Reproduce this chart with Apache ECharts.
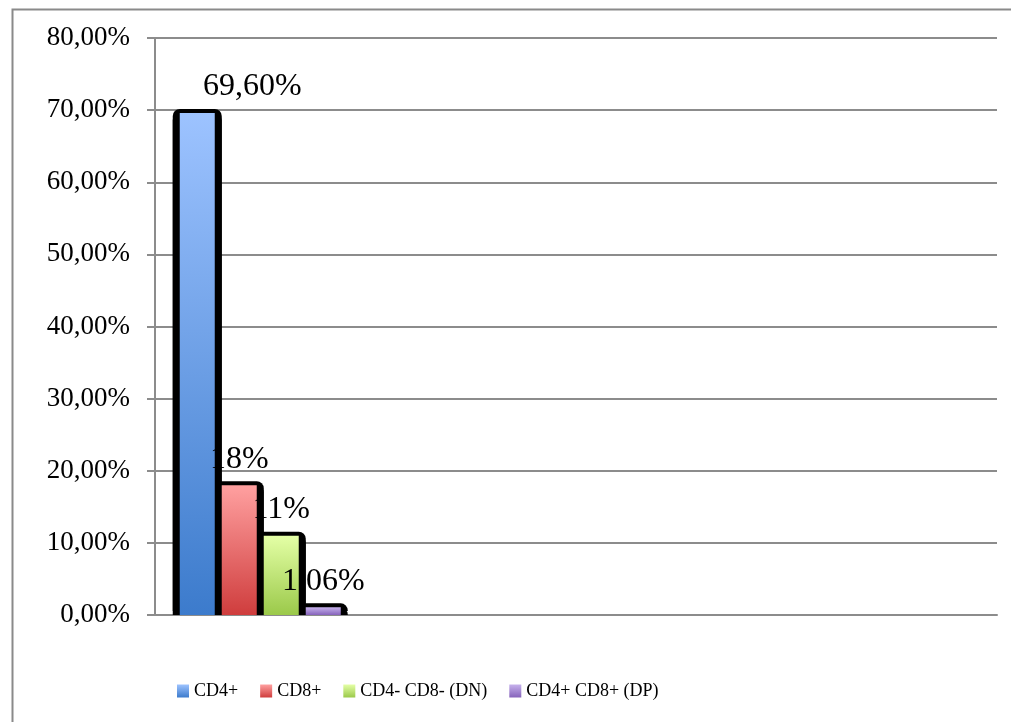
<!DOCTYPE html>
<html lang="en">
<head>
	<meta charset="UTF-8">
	<title>CD4 / CD8</title>
	<script src="https://cdn.jsdelivr.net/npm/echarts@6/dist/echarts.min.js"></script>
	<style>
		html, body { margin: 0; padding: 0; background: #fff; }
		#main { width: 1011px; height: 722px; }
	</style>
</head>
<body>
	<div id="main"></div>
	<script type="text/javascript">
	// one group of bars, the other three slots stay empty
	var categories = ['A', 'B', 'C', 'D'];
	var seriesNames = ['CD4+', 'CD8+', 'CD4- CD8- (DN)', 'CD4+ CD8+ (DP)'];
	var values = [69.6, 18, 11, 1.06];
	var yTicks = [0, 10, 20, 30, 40, 50, 60, 70, 80];

	var gradients = [
		['#9dc3ff', '#3c7bcc'],
		['#ffa0a0', '#cf3d3d'],
		['#e4ffa6', '#9bc94a'],
		['#c6b1ec', '#8663bb']
	];

	function pct(v) {
		if (Number.isInteger(v)) return v + '%';
		return v.toFixed(2).replace('.', ',') + '%';
	}

	var font = '"Liberation Serif", "DejaVu Serif", serif';

	function seriesData(i) {
		var d = [];
		for (var j = 0; j < categories.length; j++) d.push(j === 0 ? values[i] : '-');
		return d;
	}

	var series = [];
	// black "3d" backs, on their own hidden axis so they can be wider
	for (var i = 0; i < seriesNames.length; i++) {
		series.push({
			name: 'back' + i,
			type: 'bar',
			xAxisIndex: 1,
			data: seriesData(i),
			barWidth: 49,
			barGap: '-14.29%',
			silent: true,
			z: 1,
			itemStyle: {
				color: '#000',
				borderRadius: [7, 7, 0, 0],
				shadowColor: '#000',
				shadowBlur: 0,
				shadowOffsetY: -4
			}
		});
	}
	// faces
	for (var i = 0; i < seriesNames.length; i++) {
		series.push({
			name: seriesNames[i],
			type: 'bar',
			xAxisIndex: 0,
			data: seriesData(i),
			barWidth: 35,
			barGap: '20%',
			z: 3,
			itemStyle: {
				color: new echarts.graphic.LinearGradient(0, 0, 0, 1, [
					{ offset: 0, color: gradients[i][0] },
					{ offset: 1, color: gradients[i][1] }
				])
			},
			label: {
				show: true,
				position: 'top',
				distance: 10,
				offset: i === 0 ? [55, 0] : [0, 0],
				color: '#000',
				fontFamily: font,
				fontSize: 32,
				formatter: function (p) { return pct(p.value); }
			}
		});
	}

	var option = {
		animation: false,
		backgroundColor: '#fff',
		graphic: [{
			type: 'rect',
			left: 10,
			top: 7,
			shape: { width: 1010, height: 720 },
			style: { fill: 'none', stroke: '#8a8a8a', lineWidth: 2 },
			silent: true
		}],
		grid: { left: 155, right: 14, top: 38, bottom: 107 },
		legend: {
			left: 172,
			top: 677,
			itemWidth: 12,
			itemHeight: 13,
			itemGap: 22,
			icon: 'rect',
			data: seriesNames,
			textStyle: { fontFamily: font, fontSize: 18, color: '#000' }
		},
		xAxis: [{
			type: 'category',
			data: categories,
			axisLine: { lineStyle: { color: '#8c8c8c', width: 2 } },
			axisTick: { show: false },
			axisLabel: { show: false }
		}, {
			type: 'category',
			data: categories,
			show: false
		}],
		yAxis: {
			type: 'value',
			min: yTicks[0],
			max: yTicks[yTicks.length - 1],
			interval: yTicks[1] - yTicks[0],
			axisLine: { show: true, lineStyle: { color: '#8c8c8c', width: 2 } },
			axisTick: { show: true, length: 8, lineStyle: { color: '#8c8c8c', width: 2 } },
			splitLine: { lineStyle: { color: '#8c8c8c', width: 2 } },
			axisLabel: {
				margin: 25,
				color: '#000',
				fontFamily: font,
				fontSize: 27,
				formatter: function (v) { return v.toFixed(2).replace('.', ',') + '%'; }
			}
		},
		series: series
	};

	var chart = echarts.init(document.getElementById('main'));
	chart.setOption(option);
	</script>
</body>
</html>
